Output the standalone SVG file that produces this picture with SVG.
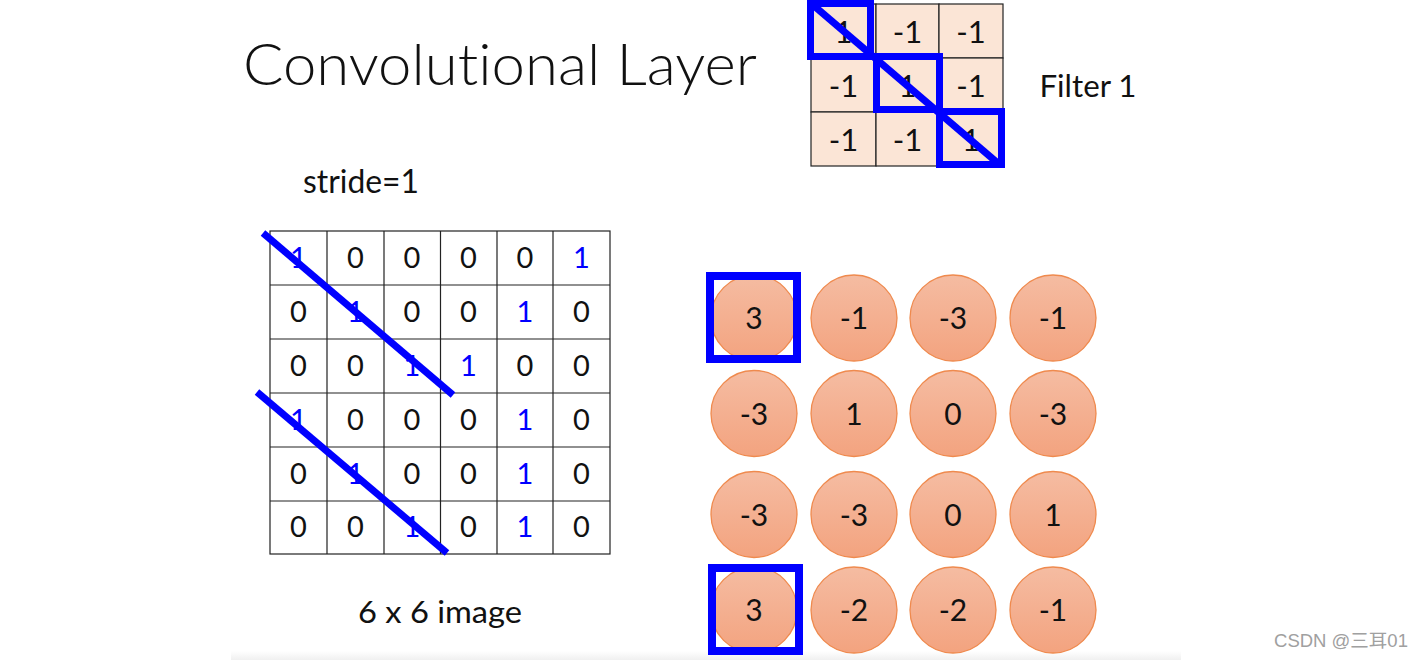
<svg xmlns="http://www.w3.org/2000/svg" width="1424" height="660" viewBox="0 0 1424 660">
<defs>
<linearGradient id="cg" x1="0" y1="0" x2="0" y2="1">
<stop offset="0" stop-color="#F5BCA2"/>
<stop offset="1" stop-color="#F3A37F"/>
</linearGradient>
<linearGradient id="sg" x1="0" y1="0" x2="0" y2="1">
<stop offset="0" stop-color="#FFFFFF"/>
<stop offset="1" stop-color="#F0F0F0"/>
</linearGradient>
<style>
text{font-family:Lato,"Liberation Sans",sans-serif;fill:#111;text-anchor:middle;font-variant-ligatures:none;font-feature-settings:"liga" 0}
.g{fill:#fff;stroke:#222;stroke-width:1.2}
.f{fill:#FBE5D6;stroke:#222;stroke-width:1.2}
.gd{font-size:29px}
.b{fill:#0000FF}
.fd{font-size:31px}
.c{fill:url(#cg);stroke:#EF8A4E;stroke-width:1.3}
.cd{font-size:30px}
.hl{fill:none;stroke:#0000FF;stroke-width:7}
.hb{fill:none;stroke:#0000FF;stroke-width:8}
.ln{stroke:#0000FF;stroke-width:7;stroke-linecap:butt}
</style>
</defs>
<rect width="1424" height="660" fill="#fff"/>
<rect x="231" y="651" width="950" height="9" fill="url(#sg)"/>

<g id="title"><text x="500" y="85" style="font-size:57px;font-weight:300" textLength="514" lengthAdjust="spacingAndGlyphs">Convolutional Layer</text></g>
<g id="stride-label"><text x="361" y="193" style="font-size:33px" textLength="116" lengthAdjust="spacingAndGlyphs">stride=1</text></g>
<g id="image-label"><text x="440" y="623" style="font-size:30px" textLength="164" lengthAdjust="spacingAndGlyphs">6 x 6 image</text></g>
<g id="filter-label"><text x="1088" y="97" style="font-size:30px" textLength="97" lengthAdjust="spacingAndGlyphs">Filter 1</text></g>

<g id="filter">
<rect class="f" x="811" y="4" width="65" height="54"/><rect class="f" x="876" y="4" width="63" height="54"/><rect class="f" x="939" y="4" width="64" height="54"/>
<rect class="f" x="811" y="58" width="65" height="54"/><rect class="f" x="876" y="58" width="63" height="54"/><rect class="f" x="939" y="58" width="64" height="54"/>
<rect class="f" x="811" y="112" width="65" height="54"/><rect class="f" x="876" y="112" width="63" height="54"/><rect class="f" x="939" y="112" width="64" height="54"/>
<text class="fd" x="843.5" y="43">1</text><text class="fd" x="907.5" y="43">-1</text><text class="fd" x="971" y="43">-1</text>
<text class="fd" x="843.5" y="97">-1</text><text class="fd" x="907.5" y="97">1</text><text class="fd" x="971" y="97">-1</text>
<text class="fd" x="843.5" y="151">-1</text><text class="fd" x="907.5" y="151">-1</text><text class="fd" x="971" y="151">1</text>
</g>

<g id="image">
<g>
<rect class="g" x="270" y="231" width="340" height="323"/>
<path d="M327 231V554M384 231V554M440.5 231V554M497 231V554M553 231V554M270 285H610M270 339H610M270 393H610M270 447H610M270 501H610" stroke="#222" stroke-width="1.2" fill="none"/>
</g>
<g class="gd">
<text x="298.5" y="268" class="b">1</text><text x="355.5" y="268">0</text><text x="412" y="268">0</text><text x="468.5" y="268">0</text><text x="525" y="268">0</text><text x="581.5" y="268" class="b">1</text>
<text x="298.5" y="322">0</text><text x="355.5" y="322" class="b">1</text><text x="412" y="322">0</text><text x="468.5" y="322">0</text><text x="525" y="322" class="b">1</text><text x="581.5" y="322">0</text>
<text x="298.5" y="376">0</text><text x="355.5" y="376">0</text><text x="412" y="376" class="b">1</text><text x="468.5" y="376" class="b">1</text><text x="525" y="376">0</text><text x="581.5" y="376">0</text>
<text x="298.5" y="430" class="b">1</text><text x="355.5" y="430">0</text><text x="412" y="430">0</text><text x="468.5" y="430">0</text><text x="525" y="430" class="b">1</text><text x="581.5" y="430">0</text>
<text x="298.5" y="484">0</text><text x="355.5" y="484" class="b">1</text><text x="412" y="484">0</text><text x="468.5" y="484">0</text><text x="525" y="484" class="b">1</text><text x="581.5" y="484">0</text>
<text x="298.5" y="537">0</text><text x="355.5" y="537">0</text><text x="412" y="537" class="b">1</text><text x="468.5" y="537">0</text><text x="525" y="537" class="b">1</text><text x="581.5" y="537">0</text>
</g>
</g>

<g id="feature-map">
<g id="r1">
<circle class="c" cx="754" cy="318" r="43"/><circle class="c" cx="854" cy="318" r="43"/><circle class="c" cx="953" cy="318" r="43"/><circle class="c" cx="1053" cy="318" r="43"/>
<text class="cd" x="754" y="329">3</text><text class="cd" x="854" y="329">-1</text><text class="cd" x="953" y="329">-3</text><text class="cd" x="1053" y="329">-1</text>
</g>
<g id="r2">
<circle class="c" cx="754" cy="413.5" r="43"/><circle class="c" cx="854" cy="413.5" r="43"/><circle class="c" cx="953" cy="413.5" r="43"/><circle class="c" cx="1053" cy="413.5" r="43"/>
<text class="cd" x="754" y="424.5">-3</text><text class="cd" x="854" y="424.5">1</text><text class="cd" x="953" y="424.5">0</text><text class="cd" x="1053" y="424.5">-3</text>
</g>
<g id="r3">
<circle class="c" cx="754" cy="514.5" r="43"/><circle class="c" cx="854" cy="514.5" r="43"/><circle class="c" cx="953" cy="514.5" r="43"/><circle class="c" cx="1053" cy="514.5" r="43"/>
<text class="cd" x="754" y="525.5">-3</text><text class="cd" x="854" y="525.5">-3</text><text class="cd" x="953" y="525.5">0</text><text class="cd" x="1053" y="525.5">1</text>
</g>
<g id="r4">
<circle class="c" cx="754" cy="610" r="43"/><circle class="c" cx="854" cy="610" r="43"/><circle class="c" cx="953" cy="610" r="43"/><circle class="c" cx="1053" cy="610" r="43"/>
<text class="cd" x="754" y="621">3</text><text class="cd" x="854" y="621">-2</text><text class="cd" x="953" y="621">-2</text><text class="cd" x="1053" y="621">-1</text>
</g>
</g>

<g id="connectors">
<line class="ln" x1="813" y1="5" x2="1000" y2="165"/>
<rect class="hl" x="810.5" y="3.5" width="60" height="53"/>
<rect class="hl" x="876.5" y="56.5" width="63" height="53"/>
<rect class="hl" x="939.5" y="111.5" width="62" height="53"/>
<line class="ln" x1="263" y1="233" x2="453" y2="395"/>
<line class="ln" x1="257" y1="392" x2="447" y2="553"/>
<rect class="hb" x="710" y="276" width="87" height="83"/>
<rect class="hb" x="712" y="568" width="87" height="83"/>
</g>

<g id="watermark"><text x="1341" y="647" style="font-family:'Liberation Sans','Noto Sans CJK SC',sans-serif;font-size:18.5px;fill:#A0A0A0">CSDN @三耳01</text></g>
</svg>
